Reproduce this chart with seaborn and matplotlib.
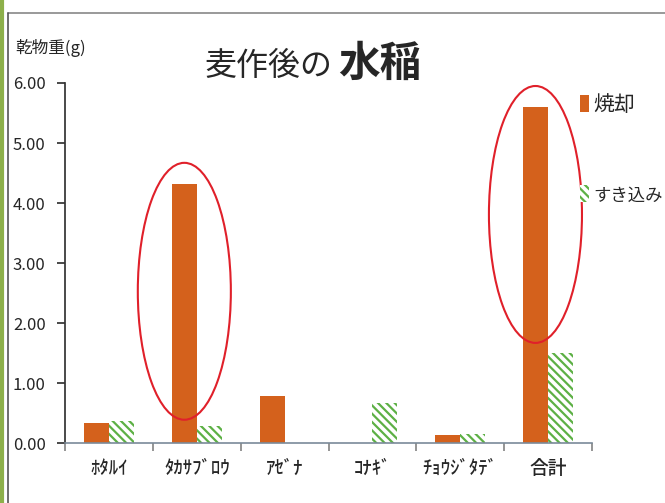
import matplotlib
matplotlib.use("Agg")
import matplotlib.pyplot as plt
import seaborn as sns
import pandas as pd
from matplotlib.patches import Ellipse, Patch
from matplotlib.lines import Line2D

categories = ["ﾎﾀﾙｲ", "ﾀｶｻﾌﾞﾛｳ", "ｱｾﾞﾅ", "ｺﾅｷﾞ", "ﾁｮｳｼﾞﾀﾃﾞ", "合計"]
burn = [0.33, 4.32, 0.78, 0.0, 0.13, 5.60]
plow = [0.37, 0.28, 0.0, 0.67, 0.16, 1.50]
series = ["焼却", "すき込み"]
yticks = [0, 1, 2, 3, 4, 5, 6]
highlight = [1, 5]

df = pd.DataFrame({
    "cat": categories * 2,
    "val": burn + plow,
    "series": [series[0]] * len(categories) + [series[1]] * len(categories),
})

sns.set_theme(style="white")
plt.rcParams['font.family'] = ['Noto Sans CJK JP', 'DejaVu Sans']
plt.rcParams['hatch.linewidth'] = 1.6

orange = "#D4611C"
green = "#5DB045"

fig = plt.figure(figsize=(6.65, 5.03), dpi=100)
ax = fig.add_axes([0.098, 0.119, 0.792, 0.716])

sns.barplot(data=df, x="cat", y="val", hue="series", hue_order=series,
            palette=[orange, "white"], width=0.57, gap=0, ax=ax,
            legend=False, saturation=1, errorbar=None)

n = len(categories)
bars_plow = ax.patches[n:2 * n]
for p in bars_plow:
    p.set_hatch("\\\\\\\\")
    p.set_edgecolor(green)
    p.set_linewidth(0)
for p in ax.patches[:n]:
    p.set_edgecolor("none")

ax.set_xlim(-0.5, n - 0.5)
ax.set_ylim(0, 6)
ax.set_yticks(yticks)
ax.set_yticklabels([f"{v:.2f}" for v in yticks], fontsize=12)
ax.set_xticks([i - 0.5 for i in range(n + 1)], minor=False)
ax.set_xticklabels([])
for i, c in enumerate(categories):
    ax.text(i, -0.42, c, ha="center", va="center", fontsize=13.5, fontweight="medium")

ax.set_xlabel("")
ax.set_ylabel("")
for s in ["top", "right"]:
    ax.spines[s].set_visible(False)
ax.spines["left"].set_color("#333333")
ax.spines["bottom"].set_color("#7A8A99")
ax.spines["bottom"].set_linewidth(1.2)
ax.tick_params(axis="y", left=True, length=6, color="#333333", pad=8)
ax.tick_params(axis="x", bottom=True, length=6, color="#888888")

# red ellipses around highlighted bars
burn_bars = ax.patches[:n]
for i in highlight:
    p = burn_bars[i]
    cx = p.get_x() + p.get_width() / 2
    top = burn[i] + 0.35
    h = 4.28
    e = Ellipse((cx, top - h / 2), width=1.06, height=h, fill=False,
                edgecolor="#E0202A", linewidth=1.5, clip_on=False)
    ax.add_patch(e)

# title & y label
fig.text(0.308, 0.868, "麦作後の", fontsize=23, ha="left", va="center")
fig.text(0.508, 0.874, "水稲", fontsize=30, fontweight="bold", ha="left", va="center")
fig.text(0.023, 0.905, "乾物重(g)", fontsize=12, ha="left", va="center")

# legend
handles = [Patch(facecolor=orange, edgecolor="none"),
           Patch(facecolor="white", edgecolor=green, hatch="\\\\\\\\", linewidth=0)]
leg = fig.legend(handles, series, loc="upper left", bbox_to_anchor=(0.853, 0.838),
                 frameon=False, fontsize=15, handlelength=0.45, handleheight=0.9,
                 handletextpad=0.2, labelspacing=3.3, borderaxespad=0.2)
leg.get_texts()[1].set_fontsize(12.5)

# slide frame
fig.add_artist(Line2D([0.003, 0.003], [0, 1], transform=fig.transFigure,
                      color="#8DB04A", linewidth=3))
fig.add_artist(Line2D([0.012, 1], [0.974, 0.974], transform=fig.transFigure,
                      color="#888888", linewidth=1.2))
fig.add_artist(Line2D([0.012, 0.012], [0, 0.974], transform=fig.transFigure,
                      color="#555555", linewidth=1.2))

fig.savefig("out.png", dpi=100)
